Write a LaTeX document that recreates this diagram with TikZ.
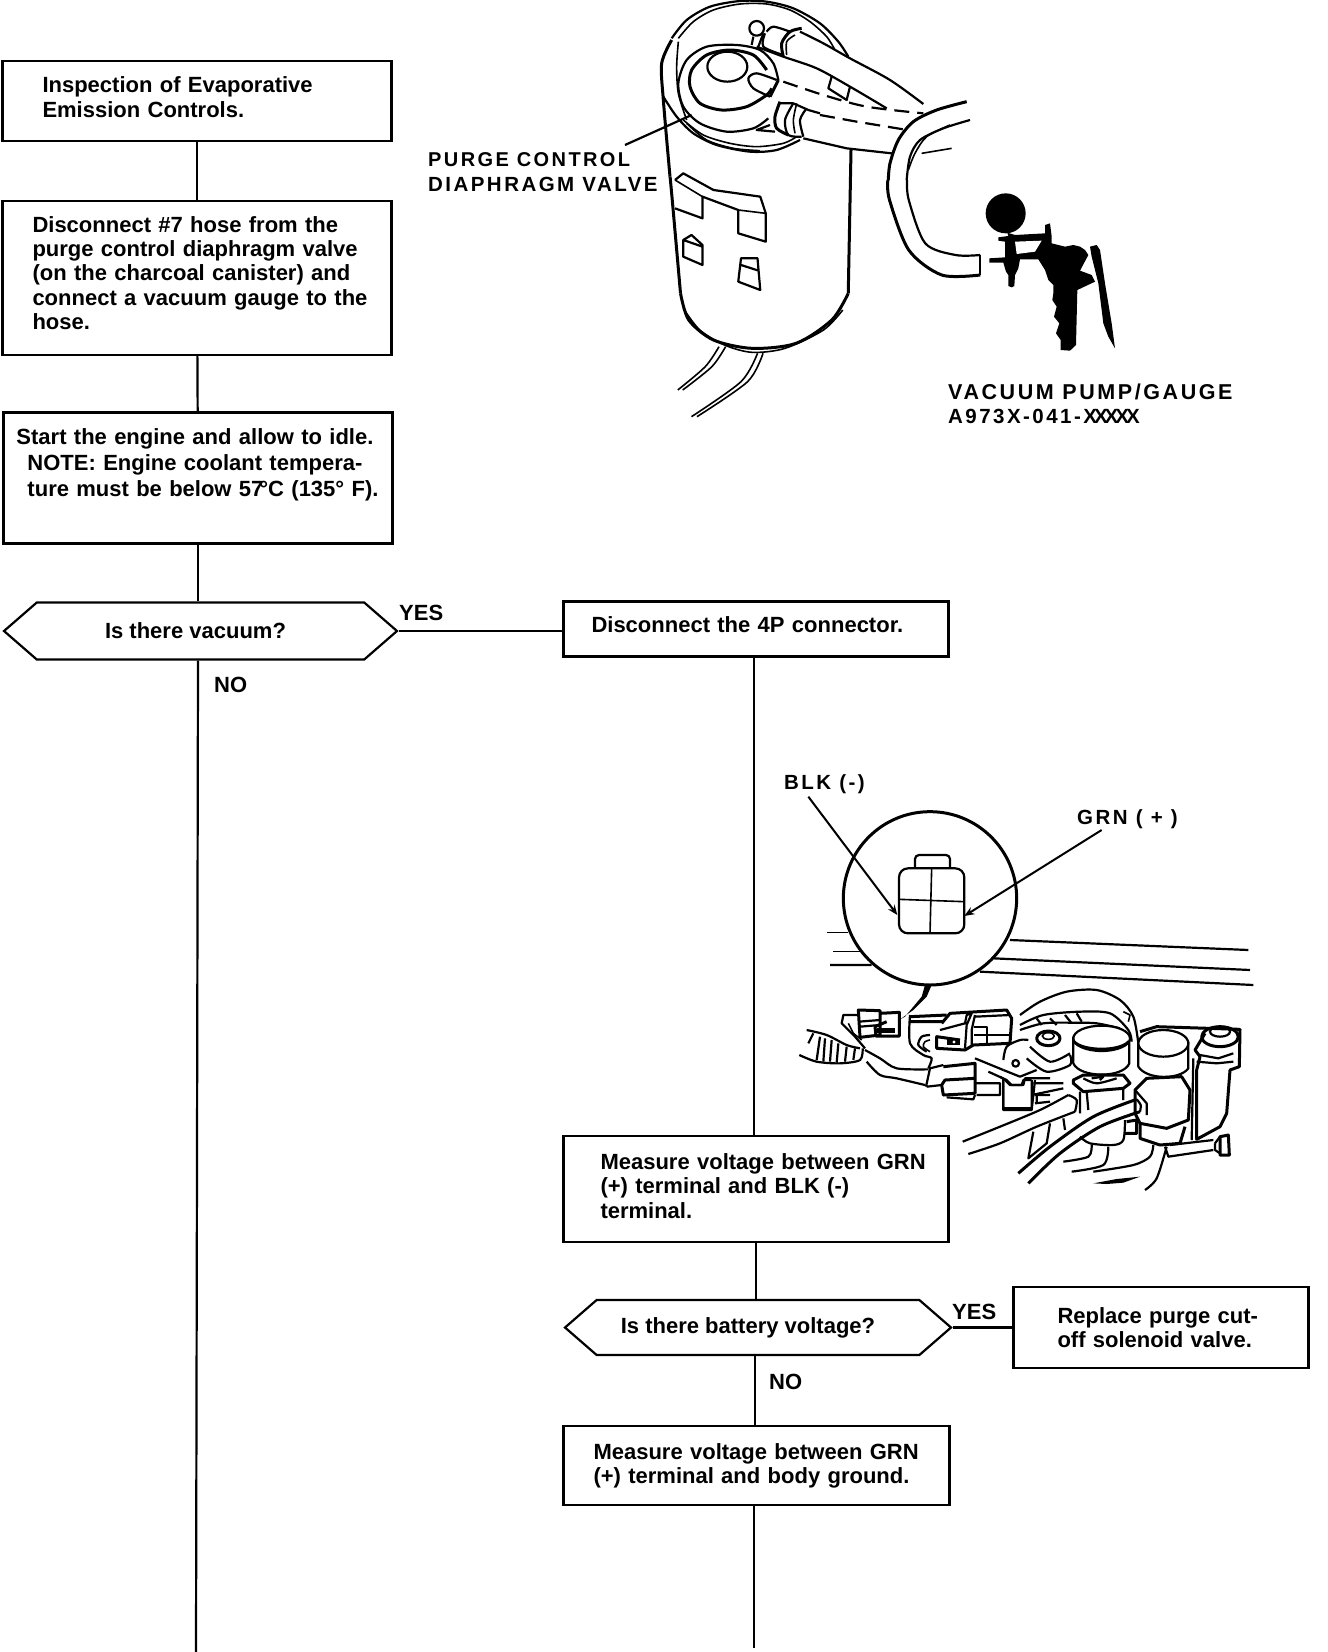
\documentclass[tikz,border=0pt]{standalone}
\usepackage{fontspec}
\setmainfont{Liberation Sans}
\newfontfamily\figfont[LetterSpace=12]{Liberation Sans}
\usetikzlibrary{arrows.meta,shapes.symbols}
\newcommand{\boxfont}{\fontsize{22}{24.3}\selectfont\bfseries}
\newcommand{\lblfont}{\fontsize{20.5}{24.3}\selectfont\figfont\bfseries}
\newcommand{\liftup}[1]{\par\vspace{#1}\nointerlineskip\null}

\begin{document}
\begin{tikzpicture}[x=1pt,y=-1pt,
    stepbox/.style={draw,line width=2.2pt,inner sep=0pt,align=left,font=\boxfont},
    inset/.style={execute at begin node={\leftskip=#1pt}},
    askbox/.style={draw,line width=2.2pt,inner sep=0pt,font=\boxfont,signal,signal to=west and east,signal pointer angle=82},
    answer/.style={font=\boxfont,inner sep=0pt},
    lbl/.style={font=\lblfont,inner sep=0pt,align=left},
    conn/.style={line width=2.2pt},
    fig/.style={line width=1.6pt,line join=round},
    figm/.style={line width=2.2pt,line join=round},
    figt/.style={line width=3pt,line join=round},
    lead/.style={line width=2pt,-{Stealth[length=10pt,width=8pt]}}]
    \useasboundingbox (0,0) rectangle (1328,1652);

    \coordinate (lline) at (198,0);
    \coordinate (rline) at (754,0);
    \coordinate (rlinelow) at (755,0);
    \coordinate (leftend) at (196,1652);
    \coordinate (rightend) at (754,1648);

    % left column
    \node[stepbox,inset=40,text width=389pt,minimum height=80pt] (insp) at (197,101)
        {Inspection of Evaporative\\Emission Controls.\liftup{8pt}};
    \node[stepbox,inset=30,text width=389pt,minimum height=154pt] (hose) at (197,278)
        {Disconnect \#7 hose from the\\purge control diaphragm valve\\(on the charcoal canister) and\\connect a vacuum gauge to the\\hose.\liftup{10pt}};
    \node[stepbox,inset=13,text width=389pt,minimum height=131pt] (idle) at (198,478)
        {Start the engine and allow to idle.\\[1.5pt]\hspace*{11pt}NOTE: Engine coolant tempera-\\[1.5pt]\hspace*{11pt}ture must be below 57\kern-4pt°C (135° F).\liftup{26pt}};
    \node[askbox,minimum width=393pt,minimum height=57pt] (vac) at (200.5,631)
        {\hspace*{-10pt}Is there vacuum?};

    % right column
    \node[stepbox,inset=28,text width=385pt,minimum height=55pt] (disc) at (756,629)
        {Disconnect the 4P connector.\liftup{8pt}};
    \node[stepbox,inset=37,text width=385pt,minimum height=106pt] (meas) at (756,1189)
        {Measure voltage between GRN\\(+) terminal and BLK (-)\\terminal.\liftup{6pt}};
    \node[askbox,minimum width=386pt,minimum height=55pt] (batt) at (758,1327.5)
        {\hspace*{-20pt}Is there battery voltage?};
    \node[stepbox,inset=44,text width=295pt,minimum height=81pt] (repl) at (1161,1327.5)
        {Replace purge cut-\\off solenoid valve.};
    \node[stepbox,inset=30,text width=386pt,minimum height=79pt] (body) at (756.5,1465.5)
        {Measure voltage between GRN\\(+) terminal and body ground.};

    \draw[conn] (insp)--(hose);
    \draw[conn] (hose)--(idle);
    \draw[conn] (idle.south)--(vac.north -| idle.south);
    \draw[conn] (vac.south -| lline)--(leftend);
    \draw[conn] (vac.east)--(vac.east -| disc.west);
    \draw[conn] (disc.south -| rline)--(meas.north -| rline);
    \draw[conn] (meas)--(batt.north -| meas);
    \draw[conn] (batt.east)--(batt.east -| repl.west);
    \draw[conn] (batt.south -| rlinelow)--(body.north -| rlinelow);
    \draw[conn] (body.south -| rightend)--(rightend);

    \node[answer,anchor=west] (yesvac) at (399,613) {YES};
    \node[answer,anchor=west] (novac) at (214,685) {NO};
    \node[answer,anchor=west] (yesbatt) at (952,1312) {YES};
    \node[answer,anchor=west] (nobatt) at (769,1382) {NO};

    \node[lbl,anchor=west] (purge) at (428,172) {\fontsize{20}{24.3}\selectfont PURGE CONTROL\\\fontsize{20.5}{24.3}\selectfont DIAPHRAGM VALVE};
    \node[lbl,anchor=west] (pump) at (948,404) {\fontsize{21.5}{24.3}\selectfont VACUUM PUMP/GAUGE\\\fontsize{20.5}{24.3}\selectfont A973X-041-X\kern-3pt X\kern-3pt X\kern-3pt X\kern-3pt X};
    \node[lbl,anchor=west] (blk) at (784,784) {BLK (-)};
    \node[lbl,anchor=west] (grn) at (1077,819) {GRN ( + )};

    % canister body and hose
    \begin{scope}[shift={(400,0)},xscale=.55,yscale=1/3]
        \draw[figt] plot[smooth] coordinates {(491,530)(495,600)(510,880)};
        \draw[figt] (820,450)--(815,880);
        \draw[figt] plot[smooth] coordinates {(510,880)(525,960)(570,1020)(640,1045)(720,1030)(785,960)(815,880)};
        \draw[fig] plot[smooth] coordinates {(515,925)(545,990)(590,1035)(640,1057)(700,1045)(770,990)(805,930)};
        \foreach \a/\b/\c in {580/555/505,592/567/514} {
            \draw[fig] plot[smooth] coordinates {(\a,1040)(\b,1100)(\c,1170)};
        }
        \foreach \a/\b/\c in {650/620/530,660/632/540} {
            \draw[fig] plot[smooth] coordinates {(\a,1060)(\b,1145)(\c,1250)};
        }
        \draw[figt] plot[smooth] coordinates {(887,540)(890,600)(925,750)(985,825)(1055,825)};
        \draw[figm] plot[smooth] coordinates {(922,540)(925,600)(955,730)(1010,765)(1055,765)};
        \draw[figm] (1055,765)--(1055,825);
        % bracket
        \draw[figm] (500,540)--(515,520)--(570,570)--(655,590)--(665,640)--(665,725)--(615,700)--(615,630)--(550,590)--(550,655)--(500,625);
        \draw[fig] (500,540)--(550,590) (615,630)--(665,640);
        \draw[figm] (515,720)--(530,705)--(550,735)--(550,795)--(515,770)--cycle (515,720)--(550,740);
        \draw[figm] (620,775)--(650,775)--(655,870)--(615,845)--cycle (620,795)--(652,812);
    \end{scope}

    % canister top
    \begin{scope}[shift={(650,0)},scale=1/3]
        \draw[figm] plot[smooth] coordinates {(65,115)(110,60)(180,20)(270,3)(350,5)(430,25)(510,70)(565,125)(595,170)};
        \draw[fig] plot[smooth] coordinates {(85,115)(130,65)(190,30)(270,12)(350,12)(420,30)(480,65)(530,110)(555,150)};
        \draw[figt] plot[smooth] coordinates {(65,120)(35,190)(40,300)(60,530)};
        \draw[fig] plot[smooth] coordinates {(85,125)(80,200)(85,280)(110,360)};
        \draw[figm] plot[smooth] coordinates {(40,290)(80,350)(130,400)(200,435)(300,455)(380,450)(450,420)};
        \draw[fig] plot[smooth] coordinates {(100,360)(160,405)(240,430)(320,440)(400,430)(440,410)};
        \draw[fig] plot[smooth] coordinates {(110,370)(170,420)(250,445)(330,452)};
        \draw[figm] plot[smooth] coordinates {(385,240)(370,190)(330,150)(260,135)(170,140)(110,180)(85,250)(100,320)(150,370)(230,395)(310,385)(355,355)};
        \draw[figt] plot[smooth] coordinates {(350,210)(310,165)(240,150)(170,165)(125,210)(120,260)(150,310)(215,330)(290,320)(350,285)(365,265)};
        \draw[figm] (232,200) ellipse (60 and 45);
        \draw[figm] plot[smooth] coordinates {(380,240)(320,220)(295,235)(310,265)(360,290)};
        \draw[figt] (385,240)--(360,290);
        \draw[figm] (320,85) circle (22);
        \draw[figm] (310,110)--(305,135) (340,100)--(325,140);
        % hoses
        \draw[figt] plot[smooth] coordinates {(400,170)(395,130)(420,95)(455,85)};
        \draw[fig] plot[smooth] coordinates {(410,165)(410,125)(435,105)};
        \draw[figm] plot[smooth] coordinates {(350,95)(370,80)(420,95)};
        \draw[figm] plot[smooth] coordinates {(345,100)(340,140)(400,165)};
        \draw[figm] plot[smooth] coordinates {(450,95)(520,130)(600,175)(720,240)(820,312)};
        \draw[figm] plot[smooth] coordinates {(320,140)(400,170)(500,205)(600,260)(710,325)};
        \draw[figm] (545,230)--(535,265)--(590,300)--(600,260);
        \draw[figm,dash pattern=on 15pt off 8pt] plot[smooth] coordinates {(400,245)(520,285)(650,320)(820,340)};
        \draw[figm,dash pattern=on 15pt off 8pt] (510,345)--(620,365)--(760,388);
        \draw[figt] plot[smooth] coordinates {(390,305)(375,350)(380,385)(415,405)};
        \draw[figm] plot[smooth] coordinates {(430,310)(405,360)(415,405)(455,410)};
        \draw[fig] plot[smooth] coordinates {(440,310)(430,360)(435,400)};
        \draw[figm] plot[smooth] coordinates {(470,325)(450,360)(460,410)};
        \draw[figm] (385,310)--(430,310)--(475,330)--(510,340);
        \draw[figm] (360,375)--(320,390)--(375,395);
        \draw[figm] (460,415)--(590,445)--(725,460);
        \draw[figt] plot[smooth] coordinates {(950,305)(860,330)(790,365)(745,420)(720,490)(715,540)};
        \draw[figm] plot[smooth] coordinates {(960,360)(880,385)(810,420)(780,470)(770,540)};
        \draw[fig] plot[smooth] coordinates {(900,375)(830,410)(795,460)(775,510)};
        \draw[fig] (905,445)--(815,460);
        % leader
        \coordinate (purgefoot) at (-75,435);
        \coordinate (purgetip) at (125,345);
        \draw[conn] (purgefoot)--(purgetip);
    \end{scope}

    % vacuum pump
    \begin{scope}[shift={(970,180)},scale=1/3]
        \fill (107,100) circle (60);
        \fill (112,158)--(115,168)--(85,172)--(85,182)--(105,185)--(105,232)--(58,235)--(58,248)--(100,248)--(108,275)--(115,285)--(115,318)--(125,322)--(133,318)--(135,285)--(145,265)--(150,238)--(205,238)--(225,270)--(235,300)--(250,315)--(250,340)--(247,360)--(260,380)--(252,410)--(268,430)--(258,460)--(272,480)--(272,510)--(300,512)--(318,495)--(322,330)--(375,305)--(365,285)--(330,272)--(355,225)--(345,210)--(330,200)--(310,195)--(285,200)--(245,190)--(245,170)--(240,130)--(225,135)--(225,160)--(135,165)--cycle;
        \fill[white] (135,185)--(215,182)--(195,215)--(140,222)--cycle;
        \fill (360,200)--(380,195)--(390,210)--(405,310)--(425,430)--(435,505)--(415,470)--(400,430)--(385,310)--(365,230)--cycle;
    \end{scope}

    % connector detail
    \begin{scope}[shift={(780,760)},scale=1/3]
        \draw[fig] (140,518)--(205,518) (160,575)--(240,575);
        \draw[figm] (150,615)--(275,615) (690,540)--(1405,570) (640,595)--(1410,630) (600,635)--(1420,675);
        \draw[figt,fill=white] (450,415) circle (260);
        \draw[figm,rounded corners=4pt] (405,325)--(405,285)--(510,285)--(510,325);
        \draw[figm,rounded corners=9pt,fill=white] (357,325) rectangle (553,520);
        \draw[fig] (455,325)--(450,520) (357,418)--(553,425);
        \coordinate (blkfoot) at (85,110);
        \coordinate (blktip) at (352,465);
        \coordinate (grnfoot) at (965,210);
        \coordinate (grntip) at (553,468);
        \draw[lead] (blkfoot)--(blktip);
        \draw[lead] (grnfoot)--(grntip);
    \end{scope}

    % plug, harness and left of the valve block
    \begin{scope}[shift={(790,980)},scale=1/3]
        \fill (425,15)--(405,15)--(395,50)--(345,110)--(330,118)--(370,90)--(410,50)--cycle;
        \draw[figt] (205,90)--(270,92)--(270,165)--(210,172)--cycle;
        \draw[figm] (205,125)--(270,120) (210,140)--(270,135);
        \draw[figt] (270,100)--(328,97)--(328,168)--(258,168)--(255,140)--(290,125);
        \fill (262,145)--(315,145)--(315,160)--(262,160)--cycle;
        \draw[figm] (205,105)--(160,105)--(155,130)--(195,170)--(225,205);
        \draw[fig] (175,130)--(190,160)--(215,180);
        \draw[figm] plot[smooth] coordinates {(50,150)(110,165)(170,195)(210,205)};
        \draw[figm] plot[smooth] coordinates {(28,225)(80,245)(150,250)(210,240)(218,205)};
        \foreach \x/\y/\u/\v in {70/160/55/190,90/170/80/240,105/175/100/245,125/180/120/245,145/190/140/248,170/200/165/245,195/205/190/240} {
            \draw[figm] (\x,\y)--(\u,\v);
        }
        \draw[figm] plot[smooth] coordinates {(225,210)(270,235)(320,265)(415,268)};
        \draw[figm] plot[smooth] coordinates {(230,245)(270,285)(320,295)(405,315)};
        \draw[figm] (408,320)--(420,265)--(460,255) (410,320)--(455,315);
        \draw[figt] (460,260)--(555,250)--(555,340)--(460,345)--(455,315)--(465,300)--(555,295);
        \draw[figm] (470,352)--(550,358)--(555,345) (555,310)--(630,310)--(630,345)--(560,345);
        \draw[figm] plot[smooth] coordinates {(360,105)(360,190)(400,225)(425,235)(415,265)};
        \draw[figt] (360,110)--(470,105) (360,125)--(460,125);
        \draw[figm] plot[smooth] coordinates {(420,165)(395,170)(385,195)(410,215)};
        \draw[fig] plot[smooth] coordinates {(420,180)(405,185)(400,200)(420,215)};
        \draw[figt] (455,130)--(480,100)--(650,90)--(665,115)--(660,190)--(550,195)--(525,210)--(440,205)--(440,170)--(510,180);
        \draw[figm] (450,150)--(525,130)--(530,105)--(545,100)--(530,135)--(525,205);
        \draw[figm] (555,105)--(545,150)--(545,200) (555,110)--(660,105);
        \draw[figm] (552,140)--(590,140)--(590,190) (552,165)--(660,165);
        \fill (470,178) rectangle (510,195);
        \fill[white] (492,186) circle (5);
        \draw[figm] (555,235)--(640,270) (595,275)--(650,300)--(665,315)--(700,315)--(705,295)--(780,295);
        \draw[figm] (640,295)--(640,390)--(725,390)--(735,300);
        \draw[figm] (735,345)--(780,345) (735,370)--(780,365);
    \end{scope}

    % solenoids and hoses
    \begin{scope}[shift={(1000,980)},scale=1/3]
        \draw[figm] plot[smooth] coordinates {(60,105)(120,65)(200,35)(290,30)(360,60)(400,110)(415,190)};
        \draw[figm] plot[smooth] coordinates {(60,135)(130,105)(240,95)(330,100)(385,150)(395,185)};
        \draw[figm] plot[smooth] coordinates {(60,150)(130,130)(220,128)(290,130)(360,145)};
        \draw[figm] (110,115)--(125,135) (150,115)--(170,135) (195,105)--(215,130) (230,100)--(245,125);
        \draw[fig] (370,95)--(390,105)--(385,125);
        % left bolt
        \draw[figt] (145,175) ellipse (35 and 22);
        \draw[fig] (145,168) ellipse (18 and 10);
        \draw[figm] plot[smooth] coordinates {(90,200)(150,245)(210,220)};
        \draw[figm] plot[smooth] coordinates {(80,235)(140,275)(210,255)(210,225)};
        \draw[figm] plot[smooth] coordinates {(10,240)(20,200)(60,180)(85,180)};
        \draw[figm] (10,270)--(60,290)--(110,270);
        \draw[figm] (47,250) circle (10);
        \draw[figm] (10,305)--(10,385)--(95,385)--(95,300) (100,310)--(190,310) (95,345)--(190,325) (110,345)--(110,370);
        \draw[figm] (0,290)--(15,300)--(30,315)--(65,315)--(70,300)--(95,300);
        % plate
        \draw[figt] (420,155)--(470,140)--(720,148)--(718,260)--(690,270)--(680,400)--(660,440)--(590,478)--(590,270)--(600,230)--(585,210)--(615,160);
        \draw[figm] (580,235)--(575,480);
        \draw[figt] (660,170) ellipse (55 and 30);
        \draw[figm] (660,155) ellipse (30 and 15);
        \draw[figm] (600,225)--(655,235)--(700,220) (590,245)--(650,250)--(700,245);
        % caps
        \draw[figm,fill=white] (220,170)--(220,250)..controls (240,295) and (370,295) ..(388,250)--(388,170);
        \draw[figm,fill=white] (305,175) ellipse (85 and 38);
        \draw[figt] (222,185)..controls (250,215) and (360,215) ..(386,185);
        \draw[figm,fill=white] (415,185)--(415,260)..controls (440,300) and (540,300) ..(565,265)--(565,185);
        \draw[figm,fill=white] (490,190) ellipse (75 and 40);
        % lower solenoids
        \draw[figt,fill=white] (220,300)--(250,285)--(370,285)--(390,310)--(370,325)--(250,335)--(220,310)--cycle;
        \draw[figm] plot[smooth] coordinates {(250,295)(290,310)(350,295)};
        \draw[figm] (275,295)--(310,290)--(300,300);
        \draw[figm] (240,335)--(240,400) (260,335)--(265,390) (370,325)--(370,360);
        \draw[figt,fill=white] (405,330)--(440,295)--(545,290)--(570,330)--(565,420)--(500,445)--(420,430)--(405,400)--cycle;
        \draw[figm] (405,330)--(440,370)--(440,405);
        \draw[figt] (420,430)--(420,475)--(480,495)--(540,490)--(555,440);
        % hoses
        \draw[figm] plot[smooth] coordinates {(-112,485)(0,440)(120,390)(205,345)};
        \draw[figm] plot[smooth] coordinates {(-95,522)(0,490)(110,440)(225,395)};
        \draw[figm] plot[smooth] coordinates {(205,345)(230,360)(225,395)};
        \draw[figt] plot[smooth] coordinates {(55,580)(150,500)(280,410)(410,358)};
        \draw[figt] plot[smooth] coordinates {(85,610)(180,520)(300,440)(420,395)};
        \draw[figm] plot[smooth] coordinates {(410,358)(422,375)(420,395)};
        \draw[figm] (100,455)--(85,535)--(140,490)--(150,430) (190,415)--(195,450);
        % under the solenoids
        \draw[figm] plot[smooth] coordinates {(375,420)(370,480)(340,495)(270,490)(240,470)};
        \draw[figt] (380,425)--(410,420)--(410,460)--(375,460);
        \draw[figm] plot[smooth] coordinates {(275,495)(265,530)(190,545)};
        \draw[figm] plot[smooth] coordinates {(325,500)(310,555)(215,575)};
        \draw[figm] plot[smooth] coordinates {(460,495)(450,530)(400,555)(280,575)};
        \draw[figm] plot[smooth] coordinates {(500,500)(470,595)(435,630)};
        \fill (280,610)--(350,597)--(420,590)--(370,608)--(320,612)--cycle;
        \draw[figm] (495,500)--(505,530)--(640,510) (510,495)--(640,480);
        \draw[figt] (660,470)--(685,465)--(688,525)--(660,525)--cycle;
        \draw[figm] (645,490)--(660,470) (645,490)--(645,510)--(660,520);
    \end{scope}
\end{tikzpicture}
\end{document}
